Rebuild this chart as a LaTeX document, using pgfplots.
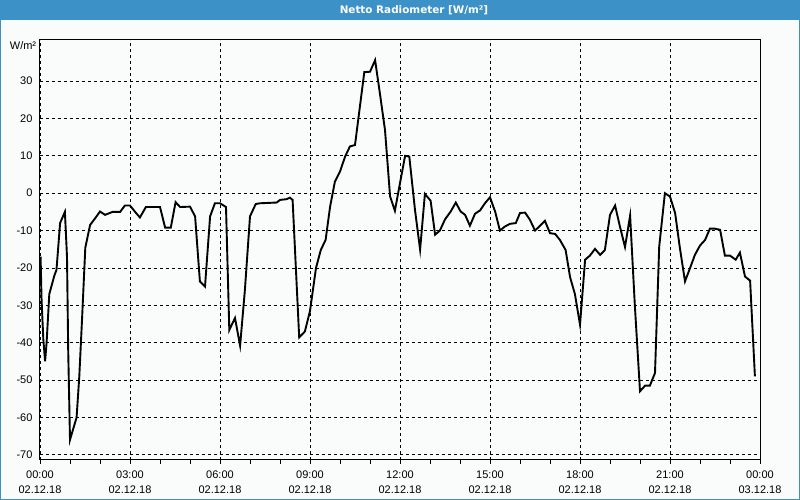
\documentclass[border=0pt]{standalone}
\usepackage{fontspec}
\setmainfont{Liberation Sans}
\newfontfamily\titlefont{DejaVu Sans}
\usepackage{pgfplots}
\pgfplotsset{compat=1.18}
\definecolor{titleblue}{RGB}{60,146,198}
\definecolor{bgc}{RGB}{250,252,251}
\begin{document}
\begin{tikzpicture}[x=1pt,y=1pt]
\fill[bgc] (0,0) rectangle (800,500);
\fill[titleblue] (0,479.5) rectangle (800,500);
\draw[titleblue, line width=1pt] (0.5,0.5) rectangle (799.5,499.5);
\node[text=white, font=\titlefont\bfseries\fontsize{10.4}{12}\selectfont] at (414,489.5) {Netto Radiometer [W/m²]};
\node[font=\fontsize{11}{13}\selectfont] at (23,454.5) {W/m²};
\begin{axis}[
  at={(40pt,40pt)}, anchor=south west, scale only axis,
  width=720pt, height=420pt,
  xmin=0, xmax=24, ymin=-71.4, ymax=41,
  xtick={0,3,...,24}, minor x tick num=2,
  xticklabels={{00:00\\02.12.18},{03:00\\02.12.18},{06:00\\02.12.18},{09:00\\02.12.18},{12:00\\02.12.18},{15:00\\02.12.18},{18:00\\02.12.18},{21:00\\02.12.18},{00:00\\03.12.18}},
  ytick={-70,-60,...,30},
  xmajorgrids, ymajorgrids,
  major grid style={black, line width=0.7pt, dash pattern=on 3pt off 3pt},
  axis line style={black, line width=1pt},
  tick align=outside, xtick pos=bottom, ytick pos=left,
  major tick length=4pt, minor tick length=4pt,
  x tick style={black, line width=0.8pt},
  y tick style={draw=none},
  /pgf/number format/assume math mode=true,
  tick label style={font=\fontsize{11}{15.5}\selectfont},
  xticklabel style={align=center, yshift=-3pt},
]
\addplot[black, line width=1.9pt, no marks] coordinates {
(0.02,-17) (0.05,-28) (0.11,-39) (0.17,-45) (0.22,-40) (0.31,-27) (0.48,-22) (0.55,-20.5)
(0.67,-8) (0.83,-5) (0.9,-17) (0.94,-42) (1.0,-66) (1.11,-63) (1.22,-60) (1.31,-49)
(1.4,-34) (1.51,-14.6) (1.67,-8.5) (1.84,-6.7) (2.0,-4.9) (2.17,-5.8) (2.42,-5) (2.67,-5)
(2.83,-3.3) (3.0,-3.3) (3.17,-5) (3.33,-6.5) (3.53,-3.7) (4.0,-3.7) (4.17,-9.2) (4.36,-9.2)
(4.52,-2.4) (4.67,-3.7) (5.0,-3.6) (5.17,-6.2) (5.33,-23.6) (5.5,-25) (5.67,-6.2) (5.83,-2.7)
(6.0,-2.7) (6.2,-3.7) (6.31,-36.6) (6.5,-33.4) (6.67,-40.8) (6.83,-25.9) (7.0,-6.2) (7.19,-2.9)
(7.33,-2.7) (7.89,-2.5) (8.0,-1.8) (8.22,-1.6) (8.33,-1.2) (8.42,-1.8) (8.64,-38.6) (8.83,-37)
(9.0,-31.5) (9.2,-20) (9.36,-15.2) (9.52,-12.5) (9.67,-3.6) (9.83,3.1) (10.0,5.8) (10.17,9.8)
(10.33,12.5) (10.5,12.9) (10.81,32.4) (11.0,32.5) (11.17,35.6) (11.33,26.7) (11.5,16.9) (11.67,-0.9)
(11.83,-4.7) (12.0,2.7) (12.17,10) (12.31,9.8) (12.5,-4.5) (12.67,-15.1) (12.83,-0.2) (13.02,-2)
(13.17,-11.1) (13.33,-10) (13.5,-7) (13.69,-4.9) (13.86,-2.5) (14.02,-4.9) (14.17,-5.8) (14.33,-8.7)
(14.5,-5.5) (14.67,-4.6) (14.83,-2.7) (15.0,-1.1) (15.17,-4.9) (15.33,-10) (15.5,-8.9) (15.67,-8.2)
(15.86,-8) (16.0,-5.3) (16.17,-5.2) (16.33,-7.1) (16.5,-10) (16.67,-8.7) (16.83,-7.4) (17.0,-10.7)
(17.17,-10.9) (17.33,-12.5) (17.52,-15.2) (17.67,-22.5) (17.83,-27) (18.0,-35.2) (18.17,-17.8) (18.33,-16.7)
(18.5,-14.9) (18.67,-16.5) (18.83,-15.2) (19.0,-5.8) (19.17,-3.3) (19.33,-8.9) (19.5,-14.4) (19.67,-6)
(19.83,-30.3) (20.0,-53) (20.17,-51.5) (20.33,-51.5) (20.5,-48.1) (20.64,-14.3) (20.83,0) (21.0,-0.9)
(21.17,-5.3) (21.33,-14.7) (21.5,-23.6) (21.67,-20) (21.83,-16.5) (22.0,-14) (22.17,-12.5) (22.33,-9.5)
(22.5,-9.5) (22.67,-9.8) (22.83,-16.7) (23.0,-16.7) (23.19,-17.8) (23.33,-15.9) (23.5,-22.3) (23.67,-23.4)
(23.83,-49)
};
\end{axis}
\pgfresetboundingbox
\useasboundingbox (0,0) rectangle (800,500);
\end{tikzpicture}
\end{document}
